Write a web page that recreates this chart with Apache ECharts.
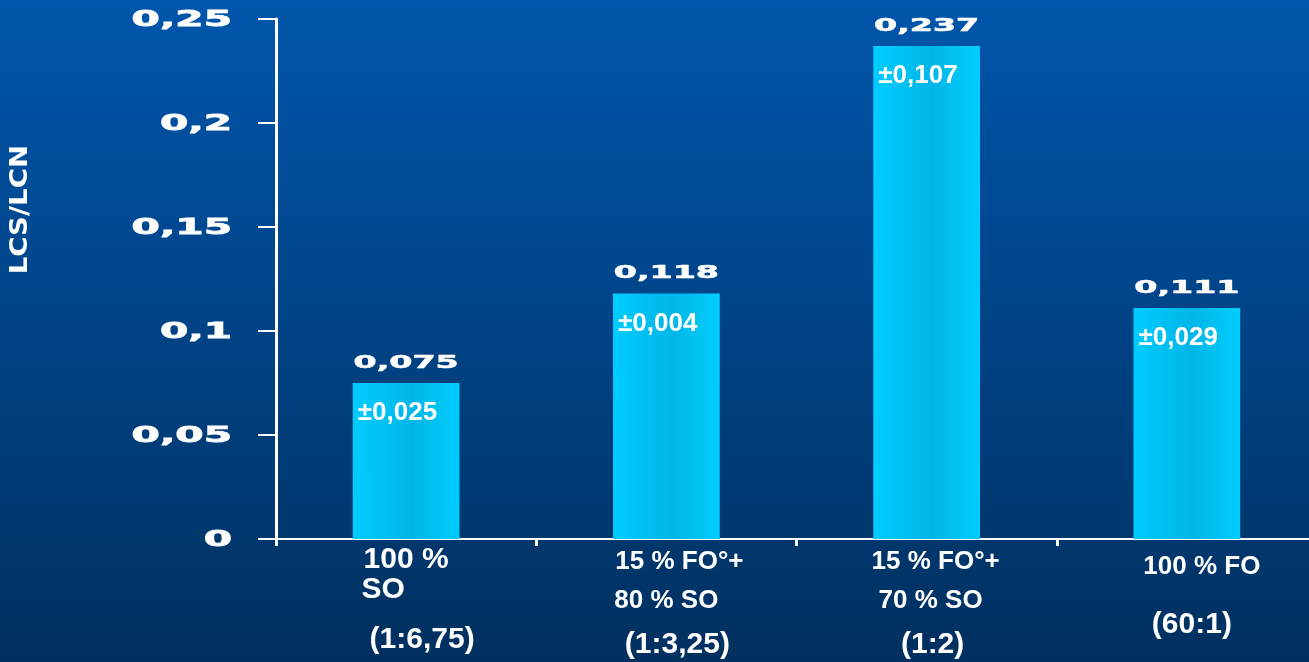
<!DOCTYPE html>
<html>
<head>
<meta charset="utf-8">
<script src="https://cdn.jsdelivr.net/npm/echarts@6/dist/echarts.min.js"></script>
<style>
html,body{margin:0;padding:0;width:1309px;height:662px;overflow:hidden;background:#003F80;}
#chart{width:1317px;height:662px;}
</style>
</head>
<body>
<div id="chart"></div>
<script>
// ---- data ----
const categories = ['100 %\nSO\n(1:6,75)', '15 % FO°+\n80 % SO\n(1:3,25)', '15 % FO°+\n70 % SO\n(1:2)', '100 % FO\n(60:1)'];
const values = [0.075, 0.118, 0.237, 0.111];
const errors = [0.025, 0.004, 0.107, 0.029];
const yTicks = [0, 0.05, 0.1, 0.15, 0.2, 0.25];
const yTitle = 'LCS/LCN';

const comma = v => String(v).replace('.', ',');

const lineStyles = [
  ['c1a', 'c1b', 'c1c'],
  ['c2a', 'c2b', 'c2c'],
  ['c3a', 'c3b', 'c3c'],
  ['c4a', 'c4b']
];
const F = 'Liberation Sans, Arial, sans-serif';
function rs(size, lh, pad) {
  return { fontSize: size, lineHeight: lh, fontWeight: 'bold', fontFamily: F, color: '#fff', align: 'center', padding: pad || [0, 0, 0, 0] };
}

const chart = echarts.init(document.getElementById('chart'), null, { renderer: 'canvas' });
chart.setOption({
  animation: false,
  backgroundColor: new echarts.graphic.LinearGradient(0, 0, 0, 1, [
    { offset: 0, color: '#0056AC' },
    { offset: 1, color: '#00305F' }
  ]),
  grid: { left: 276, right: 0, top: 19, bottom: 123, containLabel: false },
  graphic: [{
    type: 'text', left: 9, top: 145, rotation: Math.PI / 2, scaleX: 1.15,
    style: { text: yTitle, fill: '#fff', font: 'bold 24px "DejaVu Sans"' }
  }],
  xAxis: {
    type: 'category',
    data: categories,
    axisLine: { lineStyle: { color: '#fff', width: 2 } },
    axisTick: { show: true, length: 7, lineStyle: { color: '#fff', width: 3 } },
    axisLabel: {
      interval: 0,
      margin: 6,
      color: '#fff',
      formatter: function (val, idx) {
        const lines = val.split('\n');
        return lines.map((l, i) => '{' + lineStyles[idx][i] + '|' + l + '}').join('\n');
      },
      rich: {
        c1a: rs(30, 30),
        c1b: rs(30, 30, [0, 46, 0, 0]),
        c1c: rs(30, 70, [0, 0, 0, 32]),
        c2a: rs(26, 34, [0, 0, 0, 26]),
        c2b: rs(26, 44),
        c2c: rs(30, 44, [0, 0, 0, 22]),
        c3a: rs(26, 34, [0, 0, 0, 18]),
        c3b: rs(26, 44, [0, 0, 0, 8]),
        c3c: rs(30, 44, [0, 0, 0, 12]),
        c4a: rs(26, 44, [0, 0, 0, 30]),
        c4b: rs(30, 72, [0, 0, 0, 10])
      }
    }
  },
  yAxis: {
    type: 'value',
    min: 0, max: 0.25, interval: 0.05,
    axisLine: { show: true, lineStyle: { color: '#fff', width: 3 } },
    axisTick: { show: true, length: 18, lineStyle: { color: '#fff', width: 2 } },
    axisLabel: { show: false },
    splitLine: { show: false }
  },
  series: [
    {
      type: 'bar',
      data: values,
      barWidth: '41%',
      itemStyle: {
        color: new echarts.graphic.LinearGradient(0, 0, 1, 0, [
          { offset: 0, color: '#00CCFF' },
          { offset: 0.55, color: '#00B6E8' },
          { offset: 0.85, color: '#00C6F6' },
          { offset: 1, color: '#00CCFF' }
        ])
      },
      label: {
        show: true,
        position: 'insideTopLeft',
        distance: 5,
        offset: [0, 12],
        color: '#fff',
        fontFamily: F,
        fontWeight: 'bold',
        fontSize: 26,
        formatter: p => '±' + comma(errors[p.dataIndex])
      }
    },
    {
      type: 'custom',
      clip: false,
      silent: true,
      data: values.map((v, i) => [i, v]),
      renderItem: function (params, api) {
        const p = api.coord([api.value(0), api.value(1)]);
        return {
          type: 'text', x: p[0], y: p[1] - 20, scaleX: 1.85,
          style: { text: comma(api.value(1)), fill: '#fff', font: '900 18px "DejaVu Sans"', align: 'center', verticalAlign: 'middle', stroke: '#fff', lineWidth: 0.6 }
        };
      }
    },
    {
      type: 'custom',
      clip: false,
      silent: true,
      data: yTicks.map(v => [0, v]),
      renderItem: function (params, api) {
        const p = api.coord([0, api.value(1)]);
        const band = api.size([1, 0])[0];
        const left = p[0] - band / 2;
        return {
          type: 'text', x: left - 44, y: p[1] + 1, scaleX: 1.85,
          style: { text: comma(api.value(1)), fill: '#fff', font: '900 22px "DejaVu Sans"', align: 'right', verticalAlign: 'middle', stroke: '#fff', lineWidth: 0.8 }
        };
      }
    }
  ]
});
</script>
</body>
</html>
